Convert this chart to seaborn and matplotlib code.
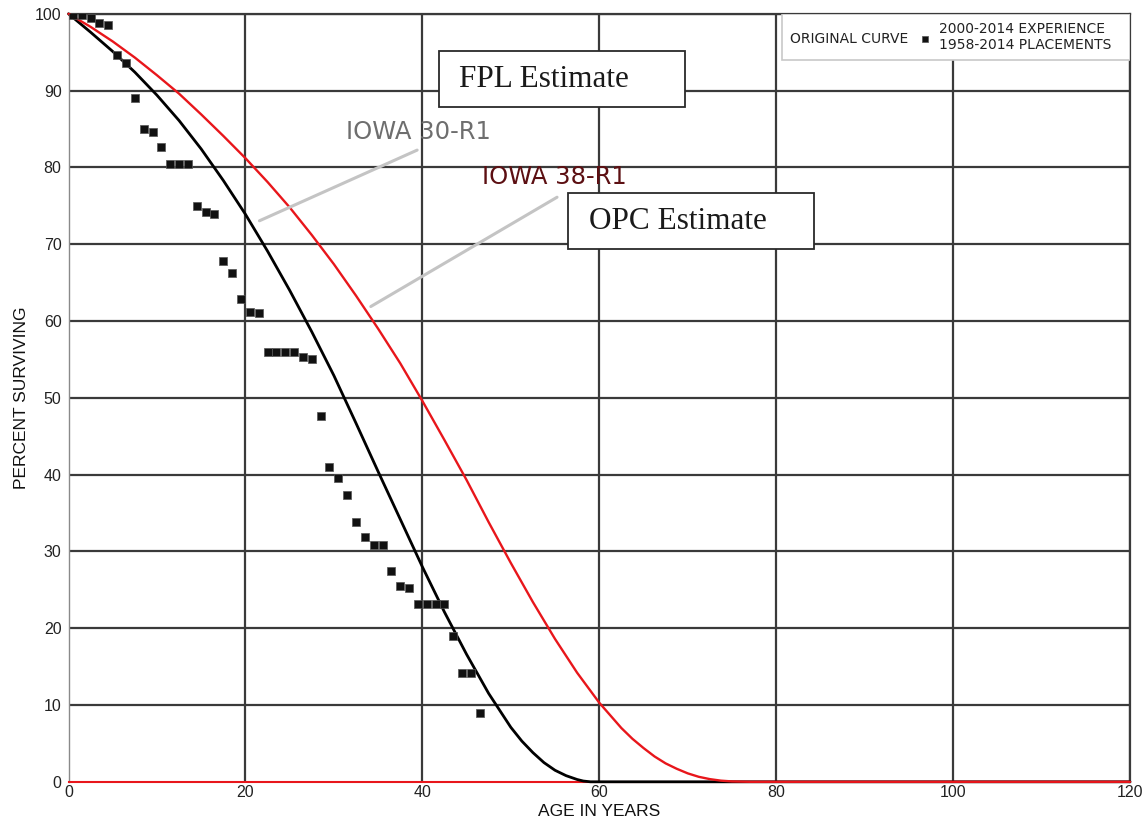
import pandas as pd
import seaborn as sns
import matplotlib.pyplot as plt
from matplotlib.patches import Rectangle

# observed survivors (2000-2014 experience, 1958-2014 placements)
obs_age = [0.5, 1.5, 2.5, 3.5, 4.5, 5.5, 6.5, 7.5, 8.5, 9.5, 10.5, 11.5, 12.5, 13.5,
           14.5, 15.5, 16.5, 17.5, 18.5, 19.5, 20.5, 21.5, 22.5, 23.5, 24.5, 25.5,
           26.5, 27.5, 28.5, 29.5, 30.5, 31.5, 32.5, 33.5, 34.5, 35.5, 36.5, 37.5,
           38.5, 39.5, 40.5, 41.5, 42.5, 43.5, 44.5, 45.5, 46.5]
obs_pct = [99.8, 99.8, 99.5, 98.8, 98.6, 94.6, 93.6, 89.1, 85.0, 84.6, 82.7, 80.4, 80.4, 80.4,
           75.0, 74.2, 73.9, 67.8, 66.3, 62.9, 61.2, 61.0, 56.0, 56.0, 56.0, 56.0,
           55.3, 55.1, 47.6, 41.0, 39.6, 37.3, 33.8, 31.9, 30.8, 30.8, 27.5, 25.5,
           25.2, 23.2, 23.2, 23.2, 23.2, 19.0, 14.2, 14.2, 9.0]

# Iowa 30-R1 (black)
iowa30_age = [0, 2.5, 5, 7.5, 10, 12.5, 15, 17.5, 20, 22.5, 25, 27.5, 30, 32.5, 35,
              37.5, 40, 42.5, 45, 47.5, 50, 51.25, 52.5, 53.75, 55, 56.25, 57.5, 58.2, 59, 120]
iowa30_pct = [100, 97.6, 95.1, 92.4, 89.4, 86.1, 82.4, 78.3, 73.9, 69.1, 64.0, 58.6, 52.9, 46.7, 40.4,
              34.2, 28.0, 22.1, 16.6, 11.5, 7.1, 5.3, 3.8, 2.5, 1.5, 0.8, 0.3, 0.1, 0, 0]

# Iowa 38-R1 (red)
iowa38_age = [0, 2.5, 5, 7.5, 10, 12.5, 15, 17.5, 20, 22.5, 25, 27.5, 30, 32.5, 35, 37.5,
              40, 42.5, 45, 47.5, 50, 52.5, 55, 57.5, 60, 62.5, 63.75, 65, 66.25, 67.5,
              68.75, 70, 71.25, 72.5, 73.75, 75, 77, 120]
iowa38_pct = [100, 98.3, 96.4, 94.3, 92.0, 89.6, 86.9, 84.1, 81.2, 78.1, 74.8, 71.2, 67.4, 63.3, 59.0, 54.5,
              49.6, 44.5, 39.3, 33.8, 28.5, 23.4, 18.6, 14.2, 10.3, 7.0, 5.6, 4.4, 3.3, 2.4,
              1.7, 1.1, 0.65, 0.35, 0.15, 0.05, 0, 0]

x_ticks = [0, 20, 40, 60, 80, 100, 120]
y_ticks = [0, 10, 20, 30, 40, 50, 60, 70, 80, 90, 100]

obs = pd.DataFrame({'age': obs_age, 'pct': obs_pct})
c30 = pd.DataFrame({'age': iowa30_age, 'pct': iowa30_pct})
c38 = pd.DataFrame({'age': iowa38_age, 'pct': iowa38_pct})

sns.set_theme(style='white')
plt.rcParams['font.family'] = ['Liberation Sans', 'DejaVu Sans']

fig = plt.figure(figsize=(11.46, 8.25), dpi=100)
ax = fig.add_axes([68.5 / 1146, 43.2 / 825, 1061.5 / 1146, 768 / 825])

sns.lineplot(data=c30, x='age', y='pct', color='black', lw=2.0, sort=False,
             estimator=None, ax=ax, zorder=3, clip_on=False)
sns.lineplot(data=c38, x='age', y='pct', color='#e8161b', lw=1.7, sort=False,
             estimator=None, ax=ax, zorder=3, clip_on=False)
sns.scatterplot(data=obs, x='age', y='pct', marker='s', s=36, color='#111111',
                edgecolor='#555555', linewidth=0.5, ax=ax, zorder=4,
                label='2000-2014 EXPERIENCE\n1958-2014 PLACEMENTS')

ax.set_xlim(0, 120)
ax.set_ylim(0, 100)
ax.set_xticks(x_ticks)
ax.set_yticks(y_ticks)
ax.set_axisbelow(True)
ax.grid(True, color='#3a3a3a', lw=1.6)
ax.get_xgridlines()[0].set_visible(False)
ax.get_ygridlines()[0].set_visible(False)

for s in ['top', 'right']:
    ax.spines[s].set_color('#3a3a3a')
    ax.spines[s].set_linewidth(1.6)
ax.spines['left'].set_color('#8a8a8a')
ax.spines['left'].set_linewidth(1.0)
ax.spines['bottom'].set_color('#e8161b')
ax.spines['bottom'].set_linewidth(1.5)

ax.tick_params(axis='both', labelsize=11.5, colors='#222222', pad=2)
ax.tick_params(axis='y', length=3, color='#8a8a8a')
ax.tick_params(axis='x', length=0)

ax.set_xlabel('AGE IN YEARS', fontsize=12.5, color='#111111', labelpad=3)
ax.set_ylabel('PERCENT SURVIVING', fontsize=12.5, color='#111111', labelpad=4)

# curve labels with leader lines
ax.annotate('', xy=(21.3, 72.9), xytext=(39.7, 82.4),
            arrowprops=dict(arrowstyle='-', color='#c4c4c4', lw=2.2))
ax.annotate('', xy=(33.9, 61.7), xytext=(55.5, 76.3),
            arrowprops=dict(arrowstyle='-', color='#c4c4c4', lw=2.2))
ax.text(31.4, 84.6, 'IOWA 30-R1', color='#6e6e6e', fontsize=17.5,
        family='DejaVu Sans', va='center', ha='left', zorder=5)
ax.text(46.8, 78.7, 'IOWA 38-R1', color='#5c0f12', fontsize=17.5,
        family='DejaVu Sans', va='center', ha='left', zorder=5)

# estimate boxes
ax.add_patch(Rectangle((41.9, 87.9), 27.8, 7.3, facecolor='white',
                       edgecolor='#2a2a2a', lw=1.3, zorder=5))
ax.text(44.2, 91.5, 'FPL Estimate', family='Liberation Serif', fontsize=22.5,
        color='#1a1a1a', va='center', ha='left', zorder=6)
ax.add_patch(Rectangle((56.5, 69.4), 27.8, 7.3, facecolor='white',
                       edgecolor='#2a2a2a', lw=1.3, zorder=5))
ax.text(58.8, 72.9, 'OPC Estimate', family='Liberation Serif', fontsize=22.5,
        color='#1a1a1a', va='center', ha='left', zorder=6)

# legend box
ax.add_patch(Rectangle((0.672, 0.940), 0.328, 0.06, transform=ax.transAxes,
                       facecolor='white', edgecolor='#c8c8c8', lw=1.2, zorder=6))
ax.text(0.680, 0.967, 'ORIGINAL CURVE', transform=ax.transAxes, fontsize=10,
        family='DejaVu Sans', color='#222222', va='center', ha='left', zorder=7)
leg = ax.legend(loc='center left', bbox_to_anchor=(0.802, 0.970), frameon=False,
                prop={'family': 'DejaVu Sans', 'size': 10}, handlelength=0.8,
                handletextpad=0.55, borderpad=0, borderaxespad=0, markerscale=0.8)
leg.set_zorder(8)
for t in leg.get_texts():
    t.set_color('#222222')

fig.savefig('out.png', dpi=100)
